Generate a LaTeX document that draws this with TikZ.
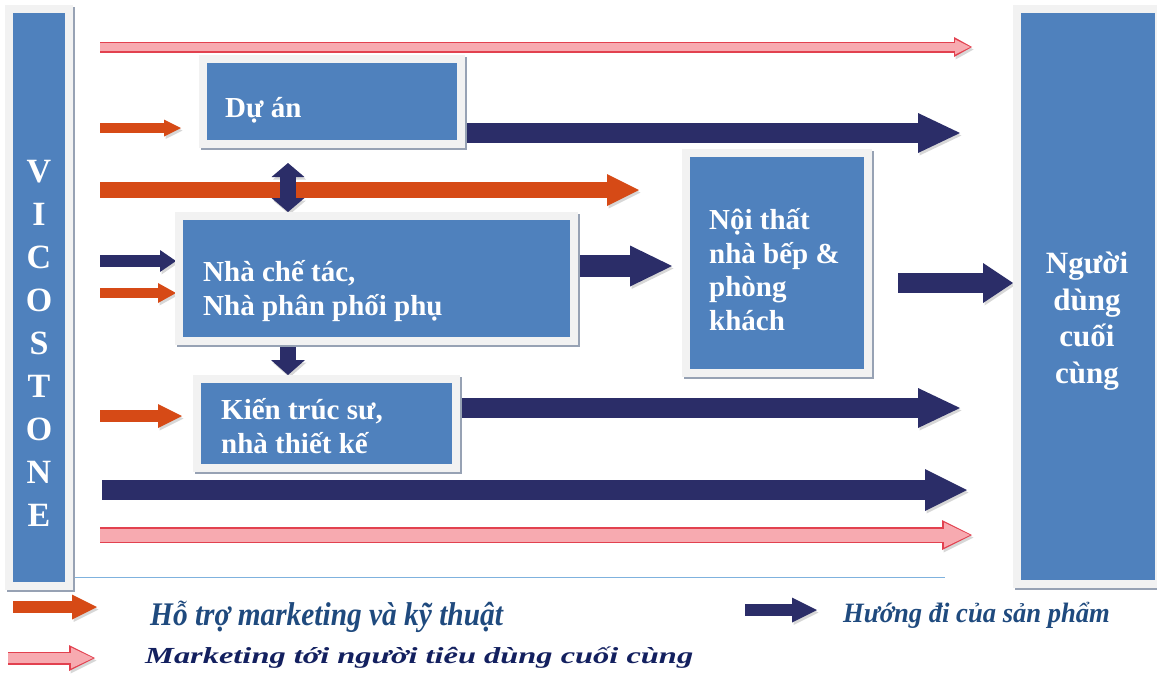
\documentclass[tikz,border=0pt]{standalone}
\usepackage{graphicx}
\usepackage{fontspec}
\setmainfont{Liberation Serif}
\usetikzlibrary{arrows.meta,positioning}

\definecolor{boxblue}{HTML}{4F81BD}
\definecolor{framegray}{HTML}{F2F2F2}
\definecolor{framedark}{HTML}{97A2B4}
\definecolor{navyc}{HTML}{2B2D68}
\definecolor{orangec}{HTML}{D64A16}
\definecolor{pinkc}{HTML}{F7AAB0}
\definecolor{pinkedge}{HTML}{E2414F}
\definecolor{legendblue}{HTML}{1F4A7E}
\definecolor{legendnavy}{HTML}{13205F}
\definecolor{rulec}{HTML}{7FB2DE}

\pgfdeclarelayer{bg}
\pgfsetlayers{bg,main}

\tikzset{
  frame/.style={fill=boxblue, draw=framegray, line width=8pt, inner sep=0pt, outer sep=0pt,
    anchor=north west,
    preaction={draw=framedark, line width=8pt, transform canvas={shift={(2pt,-2pt)}}}},
  boxtext/.style={text=white, font=\bfseries\fontsize{29}{33.5}\selectfont, align=left,
    inner sep=0pt, anchor=base west},
  dropshade/.style={preaction={draw=black!45, opacity=.35, transform canvas={shift={(1.5pt,-2.5pt)}}}},
  headtip/.style n args={2}{-{Triangle[width=#1 0 0, length=#2 0 0, line width=0pt 0 0]}},
  productarrow/.style n args={3}{draw=navyc, line width=#1, headtip={#2}{#3}, dropshade},
  supportarrow/.style n args={3}{draw=orangec, line width=#1, headtip={#2}{#3}, dropshade},
  marketarrow/.style n args={6}{draw=pinkedge, line width=#1, headtip={#2}{#3}, dropshade,
    postaction={draw=pinkc, line width=#4, headtip={#5}{#6}, shorten >=2pt}},
  legendtext/.style={anchor=base west, inner sep=0pt, text=legendblue,
    font=\bfseries\itshape\fontsize{33}{36}\selectfont}
}

\begin{document}
\begin{tikzpicture}[x=1pt,y=-1pt]
  \useasboundingbox (0,0) rectangle (1157,673);

  \node[frame, minimum width=60pt, minimum height=577pt] (vico) at (9,9) {};
  \node[boxtext, align=center, anchor=center, font=\bfseries\fontsize{34}{43}\selectfont] (viconame) at (39,343)
    {V\\I\\C\\O\\S\\T\\O\\N\\E};
  \node[frame, minimum width=258pt, minimum height=85pt] (duan) at (203,59) {};
  \node[frame, minimum width=395pt, minimum height=125pt] (chetac) at (179,216) {};
  \node[frame, minimum width=259pt, minimum height=89pt] (kientruc) at (197,379) {};
  \node[frame, minimum width=182pt, minimum height=220pt] (noithat) at (686,153) {};
  \node[frame, minimum width=142pt, minimum height=575pt] (nguoidung) at (1017,9) {};

  \node[boxtext] (duanname) at (225,117) {Dự án};
  \node[boxtext] (chetacname) at (203,315) {Nhà chế tác,\\Nhà phân phối phụ};
  \node[boxtext] (kientrucname) at (221,453) {Kiến trúc sư,\\nhà thiết kế};
  \node[boxtext] (noithatname) at (709,330) {Nội thất\\nhà bếp \&\\phòng\\khách};
  \node[boxtext, align=center, anchor=base, font=\bfseries\fontsize{31}{36.5}\selectfont] (nguoidungname)
    at (1087,383) {Người\\dùng\\cuối\\cùng};

  \coordinate (m1) at (100,47);  \coordinate (m1e) at (972,47);
  \coordinate (s1) at (100,128); \coordinate (s1e) at (181,128);
  \coordinate (p1e) at (960,133);
  \coordinate (s2) at (100,190); \coordinate (s2e) at (639,190);
  \coordinate (v1) at (288,163); \coordinate (v1e) at (288,212);
  \coordinate (p2) at (100,261); \coordinate (p2e) at (176,261);
  \coordinate (s3) at (100,293); \coordinate (s3e) at (176,293);
  \coordinate (p3e) at (672,266);
  \coordinate (p4) at (898,283); \coordinate (p4e) at (1013,283);
  \coordinate (v2e) at (288,375);
  \coordinate (s4) at (100,416); \coordinate (s4e) at (182,416);
  \coordinate (p5e) at (960,408);
  \coordinate (p6) at (102,490); \coordinate (p6e) at (967,490);
  \coordinate (m2) at (100,535); \coordinate (m2e) at (972,535);

  \begin{pgfonlayer}{bg}
    \draw[marketarrow={11pt}{20pt}{18pt}{8pt}{15pt}{15pt}] (m1) -- (m1e);
    \draw[supportarrow={10pt}{17pt}{17pt}] (s1) -- (s1e);
    \draw[productarrow={20pt}{40pt}{42pt}] (duan.east |- p1e) -- (p1e);
    \draw[supportarrow={16pt}{32pt}{32pt}] (s2) -- (s2e);
    \draw[productarrow={16pt}{33pt}{14pt},
      {Triangle[width=33pt 0 0, length=14pt 0 0, line width=0pt 0 0]}-{Triangle[width=33pt 0 0, length=14pt 0 0, line width=0pt 0 0]}]
      (v1) -- (v1e);
    \draw[productarrow={12pt}{22pt}{16pt}] (p2) -- (p2e);
    \draw[supportarrow={10pt}{20pt}{18pt}] (s3) -- (s3e);
    \draw[productarrow={22pt}{41pt}{42pt}] (chetac.east |- p3e) -- (p3e);
    \draw[productarrow={16pt}{34pt}{15pt}] (chetac.south -| v1) -- (v2e);
    \draw[productarrow={20pt}{40pt}{30pt}] (p4) -- (p4e);
    \draw[supportarrow={12pt}{24pt}{24pt}] (s4) -- (s4e);
    \draw[productarrow={20pt}{40pt}{42pt}] (kientruc.east |- p5e) -- (p5e);
    \draw[productarrow={20pt}{42pt}{42pt}] (p6) -- (p6e);
    \draw[marketarrow={16pt}{30pt}{30pt}{13pt}{25pt}{26pt}] (m2) -- (m2e);
  \end{pgfonlayer}

  \draw[rulec, line width=1pt] (75,577) -- (945,577);

  \coordinate (l1) at (13,607);  \coordinate (l1e) at (97,607);
  \coordinate (l2) at (745,610); \coordinate (l2e) at (817,610);
  \coordinate (l3) at (8,658);   \coordinate (l3e) at (95,658);
  \draw[supportarrow={12pt}{25pt}{25pt}] (l1) -- (l1e);
  \draw[productarrow={12pt}{25pt}{25pt}] (l2) -- (l2e);
  \draw[marketarrow={13pt}{26pt}{26pt}{10pt}{21pt}{22pt}] (l3) -- (l3e);
  \node[legendtext] (support) at (150,625) {\scalebox{0.89}[1]{Hỗ trợ marketing và kỹ thuật}};
  \node[legendtext, font=\bfseries\itshape\fontsize{28}{30}\selectfont] (product) at (843,622)
    {\scalebox{0.95}[1]{Hướng đi của sản phẩm}};
  \node[legendtext, text=legendnavy, font=\bfseries\itshape\fontsize{23}{30}\selectfont] (market) at (145,663)
    {\scalebox{1.41}[1]{Marketing tới người tiêu dùng cuối cùng}};
\end{tikzpicture}
\end{document}
